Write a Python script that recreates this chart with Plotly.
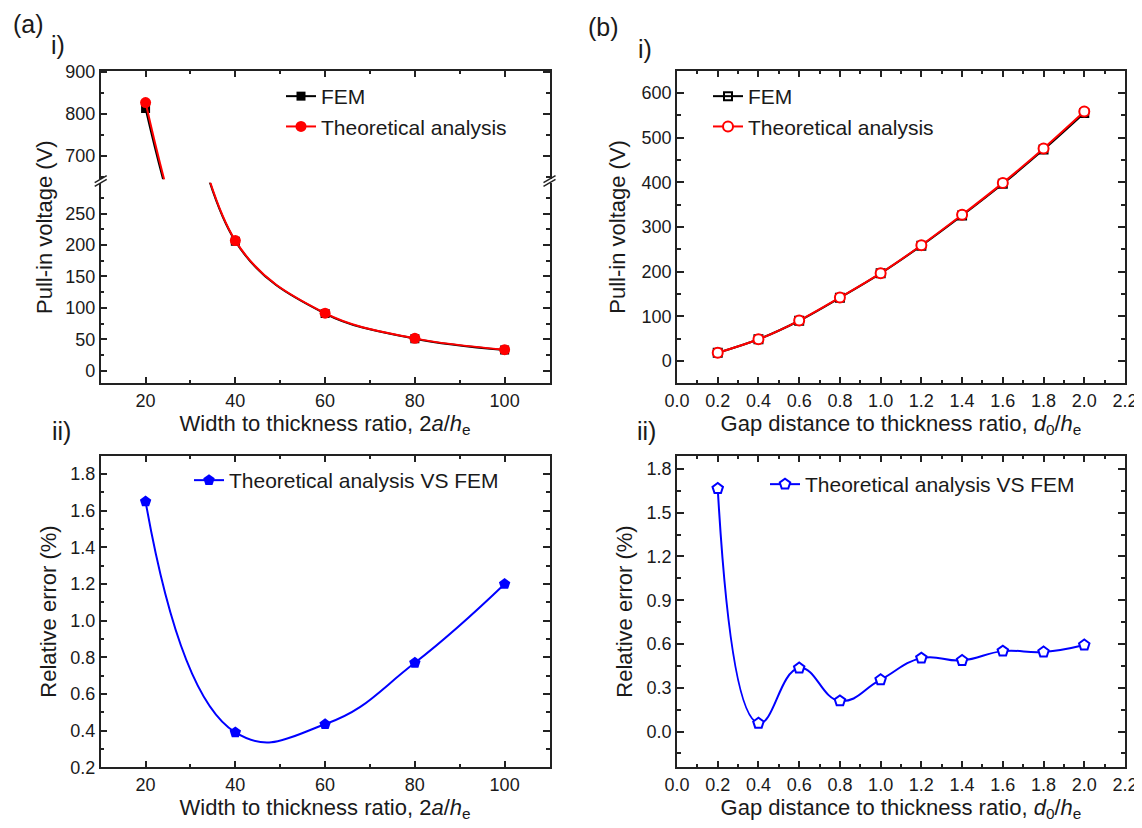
import plotly.graph_objects as go

# The page body has an 8 px default margin, so the figure is drawn 8 px in from
# the top-left corner; the layout below is expressed in window pixels.
WIN_W, WIN_H = 1142, 828
OFF = 8
W, H = WIN_W - OFF, WIN_H - OFF

# ---------------- data ----------------
width_ratio = [20, 40, 60, 80, 100]
pullin_fem_a = [813, 206, 91, 51, 33]
pullin_theory_a = [827, 207, 91.5, 51.5, 33.5]
error_a = [1.65, 0.39, 0.435, 0.77, 1.2]

gap_ratio = [0.2, 0.4, 0.6, 0.8, 1.0, 1.2, 1.4, 1.6, 1.8, 2.0]
pullin_fem_b = [18.2, 48.5, 90, 141.5, 196, 258, 325.5, 396.5, 473, 555]
pullin_theory_b = [18.5, 48.5, 90.5, 142, 196.5, 259, 327, 398.5, 475.5, 558]
error_b = [1.665, 0.057, 0.435, 0.21, 0.355, 0.503, 0.487, 0.551, 0.545, 0.593]

FONT = "Arial, Liberation Sans, sans-serif"
TXT = "#1a1a1a"
FRAME = "#222222"


def fx(p):
    return (p - OFF) / W


def fy(p):
    return 1 - (p - OFF) / H


LX = [fx(100.7), fx(549.5)]
RX = [fx(677), fx(1125)]
TOP_Y = [fy(383.3), fy(70.5)]
BOT_Y = [fy(767.3), fy(455.7)]
A_LOW = [fy(383.3), fy(182.8)]
A_UP = [fy(179.2), fy(70.5)]


def axis(**kw):
    d = dict(
        showline=True, linecolor=FRAME, linewidth=1.5,
        ticks="inside", ticklen=7, tickwidth=1.5, tickcolor=FRAME,
        showgrid=False, zeroline=False, automargin=False,
        tickfont=dict(size=18, color=TXT, family=FONT),
        title_font=dict(size=22, color=TXT, family=FONT),
    )
    minor_dtick = kw.pop("minor_dtick", None)
    if minor_dtick is not None:
        d["minor"] = dict(ticks="inside", ticklen=4, tickwidth=1.5,
                          tickcolor=FRAME, dtick=minor_dtick, showgrid=False)
    d.update(kw)
    return d


fig = go.Figure()

# (a) i) pull-in voltage, broken axis: lower (x, y) and upper (x2, y2)
for xa, ya, show in [("x", "y", True), ("x2", "y2", False)]:
    fig.add_trace(go.Scatter(
        x=width_ratio, y=pullin_fem_a, name="FEM", mode="lines+markers",
        line=dict(color="#000000", width=2, shape="spline"),
        marker=dict(symbol="square", size=9, color="#000000"),
        xaxis=xa, yaxis=ya, showlegend=show, legend="legend", legendgroup="a1"))
    fig.add_trace(go.Scatter(
        x=width_ratio, y=pullin_theory_a, name="Theoretical analysis", mode="lines+markers",
        line=dict(color="#ff0000", width=2, shape="spline"),
        marker=dict(symbol="circle", size=11, color="#ff0000"),
        xaxis=xa, yaxis=ya, showlegend=show, legend="legend", legendgroup="a2"))

# (b) i)
fig.add_trace(go.Scatter(
    x=gap_ratio, y=pullin_fem_b, name="FEM", mode="lines+markers",
    line=dict(color="#000000", width=2, shape="spline"),
    marker=dict(symbol="square-open", size=8, color="#000000", line=dict(width=2)),
    xaxis="x3", yaxis="y3", legend="legend2", legendgroup="b1"))
fig.add_trace(go.Scatter(
    x=gap_ratio, y=pullin_theory_b, name="Theoretical analysis", mode="lines+markers",
    line=dict(color="#ff0000", width=2, shape="spline"),
    marker=dict(symbol="circle", size=10, color="#ffffff", line=dict(color="#ff0000", width=2)),
    xaxis="x3", yaxis="y3", legend="legend2", legendgroup="b2"))

# (a) ii)
fig.add_trace(go.Scatter(
    x=width_ratio, y=error_a, name="Theoretical analysis VS FEM", mode="lines+markers",
    line=dict(color="#0000ff", width=2, shape="spline", smoothing=1.3),
    marker=dict(symbol="pentagon", size=12, color="#0000ff"),
    xaxis="x4", yaxis="y4", legend="legend3"))

# (b) ii)
fig.add_trace(go.Scatter(
    x=gap_ratio, y=error_b, name="Theoretical analysis VS FEM", mode="lines+markers",
    line=dict(color="#0000ff", width=2, shape="spline", smoothing=1.3),
    marker=dict(symbol="pentagon", size=11, color="#ffffff", line=dict(color="#0000ff", width=2)),
    xaxis="x5", yaxis="y5", legend="legend4"))

x_title_a = "Width to thickness ratio, 2<i>a</i>/<i>h</i><sub>e</sub>"
x_title_b = "Gap distance to thickness ratio, <i>d</i><sub>0</sub>/<i>h</i><sub>e</sub>"

fig.update_layout(
    xaxis=axis(domain=LX, anchor="y", range=[10, 110], tick0=20, dtick=20, minor_dtick=10,
               mirror=False, side="bottom", title=dict(text=x_title_a, standoff=4)),
    yaxis=axis(domain=A_LOW, anchor="x", range=[-20, 299], tick0=0, dtick=50, minor_dtick=25,
               mirror="ticks"),
    xaxis2=axis(domain=LX, anchor="y2", matches="x", range=[10, 110], tick0=20, dtick=20,
                minor_dtick=10, side="top", mirror=False, showticklabels=False),
    yaxis2=axis(domain=A_UP, anchor="x2", range=[645, 903], tick0=700, dtick=100, minor_dtick=50,
                mirror="ticks"),
    xaxis3=axis(domain=RX, anchor="y3", range=[0, 2.2], tick0=0, dtick=0.2, minor_dtick=0.1,
                tickformat=".1f", mirror="ticks", title=dict(text=x_title_b, standoff=4)),
    yaxis3=axis(domain=TOP_Y, anchor="x3", range=[-50, 650], tick0=0, dtick=100, minor_dtick=50,
                mirror="ticks", title=dict(text="Pull-in voltage (V)", standoff=10)),
    xaxis4=axis(domain=LX, anchor="y4", range=[10, 110], tick0=20, dtick=20, minor_dtick=10,
                mirror="ticks", title=dict(text=x_title_a, standoff=4)),
    yaxis4=axis(domain=BOT_Y, anchor="x4", range=[0.2, 1.9], tick0=0.2, dtick=0.2, minor_dtick=0.1,
                tickformat=".1f", mirror="ticks", title=dict(text="Relative error (%)", standoff=8)),
    xaxis5=axis(domain=RX, anchor="y5", range=[0, 2.2], tick0=0, dtick=0.2, minor_dtick=0.1,
                tickformat=".1f", mirror="ticks", title=dict(text=x_title_b, standoff=4)),
    yaxis5=axis(domain=BOT_Y, anchor="x5", range=[-0.245, 1.89], tick0=0, dtick=0.3,
                minor_dtick=0.15, tickformat=".1f", mirror="ticks",
                title=dict(text="Relative error (%)", standoff=8)),
)

leg_common = dict(font=dict(size=21, color=TXT, family=FONT), bgcolor="rgba(0,0,0,0)",
                  borderwidth=0, xanchor="left", yanchor="top", tracegroupgap=0)
fig.update_layout(
    legend=dict(x=fx(281), y=fy(76), **leg_common),
    legend2=dict(x=fx(708), y=fy(76), **leg_common),
    legend3=dict(x=fx(189), y=fy(460), **leg_common),
    legend4=dict(x=fx(765), y=fy(464), **leg_common),
)

annotations = [
    dict(text="(a)", x=fx(28), y=fy(24), font=dict(size=25)),
    dict(text="i)", x=fx(58), y=fy(45), font=dict(size=25)),
    dict(text="(b)", x=fx(603), y=fy(27), font=dict(size=25)),
    dict(text="i)", x=fx(645), y=fy(49), font=dict(size=25)),
    dict(text="ii)", x=fx(61), y=fy(431), font=dict(size=25)),
    dict(text="ii)", x=fx(646), y=fy(431), font=dict(size=25)),
    dict(text="Pull-in voltage (V)", x=fx(44), y=fy(227), textangle=-90, font=dict(size=22)),
]
for a in annotations:
    a.update(xref="paper", yref="paper", showarrow=False, xanchor="center", yanchor="middle")
    a["font"].update(family=FONT, color=TXT)
fig.update_layout(annotations=annotations)

# axis-break marks on the left and right frame lines of panel (a) i)
shapes = []
for x0 in (100.7, 549.5):
    for yb in (182.8, 179.2):
        shapes.append(dict(type="line", xref="paper", yref="paper",
                           x0=fx(x0 - 6), y0=fy(yb + 3.5), x1=fx(x0 + 6), y1=fy(yb - 3.5),
                           line=dict(color=FRAME, width=1.5)))
fig.update_layout(shapes=shapes)

fig.update_layout(
    template="none",
    width=W, height=H, margin=dict(l=0, r=0, t=0, b=0, pad=0),
    paper_bgcolor="white", plot_bgcolor="white",
    font=dict(family=FONT, color=TXT),
)

fig.write_html("out.html")
